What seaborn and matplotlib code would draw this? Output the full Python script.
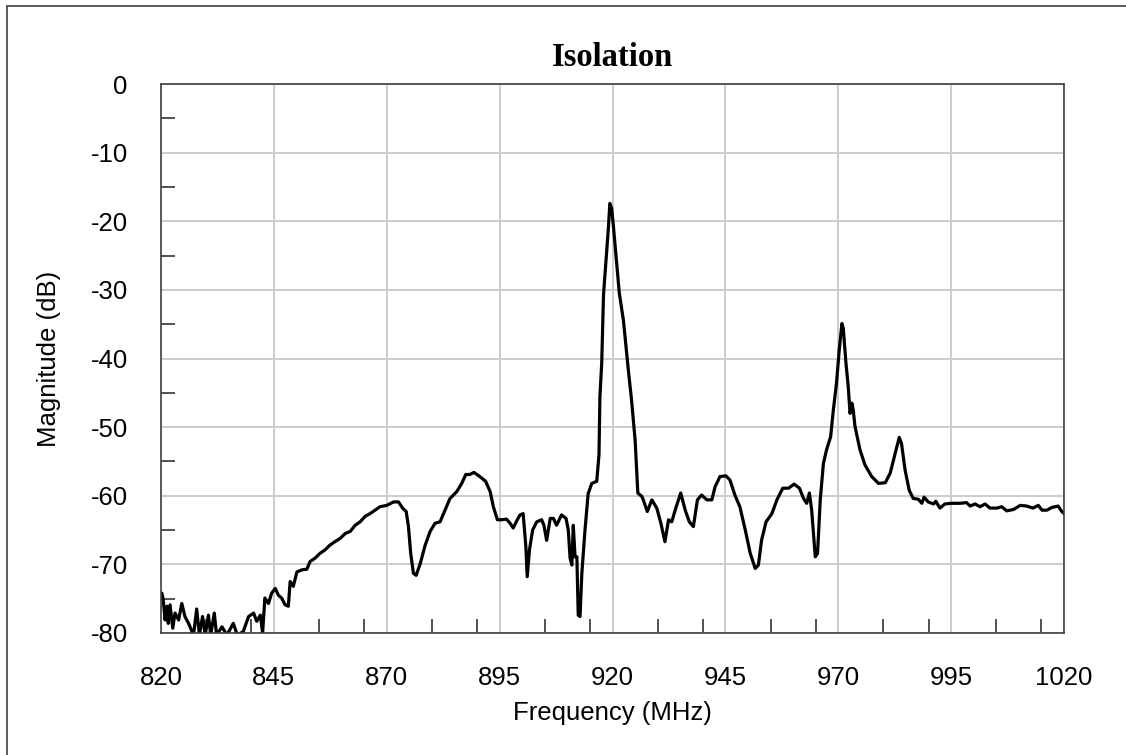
import matplotlib
matplotlib.use("Agg")
import matplotlib.pyplot as plt
import seaborn as sns
import pandas as pd
from matplotlib.lines import Line2D
from matplotlib.ticker import FixedLocator

# values (frequency in MHz, magnitude in dB)
freq = [
    820.2, 820.5, 820.9, 821.3, 821.6, 822.0, 822.6, 823.1, 823.9, 824.6,
    825.3, 826.1, 827.2, 827.9, 828.5, 829.2, 829.8, 830.5, 831.0, 831.8,
    832.3, 833.5, 834.6, 836.0, 836.9, 838.2, 839.4, 840.5, 841.2, 842.0,
    842.5, 843.0, 843.8, 844.5, 845.3, 846.0, 846.7, 847.5, 848.2, 848.6,
    849.3, 850.1, 851.2, 852.3, 853.0, 854.1, 855.2, 856.3, 857.4, 858.5,
    859.7, 860.8, 861.9, 863.0, 864.1, 865.2, 866.3, 867.4, 868.5,
    870.0, 871.5, 872.6, 873.5, 874.3, 874.8, 875.3, 875.9, 876.5, 877.4,
    878.5, 879.6, 880.7, 881.8, 882.9, 884.0, 885.5, 886.6, 887.5, 888.4,
    889.3, 890.6, 891.9, 892.9, 893.6, 894.5, 895.4, 896.5, 897.3, 898.0,
    898.9, 899.5, 900.2, 900.8, 901.1, 901.6, 902.3, 903.2, 904.3, 904.8,
    905.4, 906.2, 906.9, 907.6, 908.7, 909.7, 910.2, 910.6, 911.0, 911.3,
    911.7, 912.1, 912.4, 912.8, 913.2, 913.9, 914.6, 915.4, 916.5,
    917.0, 917.2, 917.6, 918.0, 918.6, 919.1, 919.4, 919.8, 920.2, 920.8,
    921.5, 922.4, 923.5, 924.2, 925.0, 925.6, 926.5,
    926.8, 927.7, 928.7, 929.8, 930.7, 931.6, 932.4, 933.1, 934.1, 935.1,
    936.1, 937.0, 937.9, 938.8, 939.7, 940.9, 942.0, 942.7, 943.8, 945.1,
    946.0, 947.1, 948.2, 949.4, 950.5, 951.6, 952.3, 953.0, 954.0, 955.3,
    956.4, 957.7, 959.0, 960.2, 961.4, 962.3, 963.0, 963.6, 964.1, 964.9,
    965.4, 966.0, 966.7, 967.4, 968.3, 968.9, 969.6, 970.2, 970.8, 971.1,
    971.7, 972.2, 972.6, 973.0, 973.3,
    973.7, 974.8, 975.9, 977.4, 978.9, 980.4, 981.5, 982.6, 983.5, 984.0,
    984.8, 985.7, 986.6, 987.7, 988.5, 989.0, 989.9, 991.1, 991.6, 992.5,
    993.6, 995.1, 997.0, 998.4, 999.2, 1000.3, 1001.4, 1002.5, 1003.6, 1005.1,
    1006.2, 1007.3, 1008.8, 1010.3, 1011.7, 1013.1, 1014.3, 1015.1, 1016.2, 1017.3,
    1018.7, 1019.5, 1020.0,
]
magnitude = [
    -74.2, -75.2, -78.1, -76.1, -78.6, -75.9, -79.3, -77.1, -78.1, -75.7,
    -77.6, -78.6, -80.3, -76.5, -80.3, -77.6, -80.3, -77.4, -80.3, -77.1,
    -80.3, -79.1, -80.3, -78.6, -80.3, -79.8, -77.6, -77.1, -78.3, -77.4,
    -80.0, -74.9, -75.7, -74.2, -73.5, -74.5, -74.9, -75.9, -76.1, -72.5,
    -73.2, -71.1, -70.8, -70.7, -69.6, -69.1, -68.4, -67.9, -67.2, -66.7,
    -66.2, -65.5, -65.2, -64.3, -63.8, -63.0, -62.6, -62.1, -61.6,
    -61.4, -60.9, -60.9, -61.8, -62.3, -64.5, -68.4, -71.3, -71.6, -69.9,
    -67.2, -65.2, -64.0, -63.8, -62.1, -60.4, -59.4, -58.2, -56.9, -56.9,
    -56.6, -57.2, -57.9, -59.4, -61.6, -63.5, -63.5, -63.4, -64.0, -64.7,
    -63.5, -62.8, -62.6, -67.4, -71.8, -67.9, -65.0, -63.8, -63.5, -64.3,
    -66.5, -63.3, -63.3, -64.3, -62.8, -63.3, -65.0, -69.1, -70.1, -64.3,
    -68.9, -68.9, -77.4, -77.6, -71.3, -65.0, -59.7, -58.2, -57.9,
    -54.0, -45.6, -40.7, -30.7, -25.2, -20.8, -17.4, -18.1, -20.8, -25.2,
    -30.5, -34.4, -41.7, -46.0, -51.9, -59.6, -60.1,
    -60.6, -62.3, -60.6, -61.8, -64.0, -66.7, -63.5, -63.8, -61.6, -59.6,
    -62.1, -63.8, -64.5, -60.6, -59.9, -60.6, -60.6, -58.7, -57.2, -57.1,
    -57.7, -59.9, -61.6, -65.0, -68.4, -70.6, -70.1, -66.5, -63.8, -62.6,
    -60.6, -58.9, -58.9, -58.3, -58.9, -60.4, -61.1, -59.6, -62.1, -68.9,
    -68.4, -60.6, -55.3, -53.3, -51.4, -47.5, -43.6, -38.8, -34.9, -35.6,
    -40.7, -44.1, -48.0, -46.5, -47.5,
    -49.9, -53.3, -55.5, -57.2, -58.2, -58.1, -56.7, -53.8, -51.5, -52.4,
    -56.3, -59.2, -60.4, -60.5, -61.1, -60.2, -60.9, -61.2, -60.8, -61.8,
    -61.2, -61.1, -61.1, -61.0, -61.5, -61.2, -61.6, -61.2, -61.8, -61.8,
    -61.6, -62.2, -62.0, -61.4, -61.5, -61.8, -61.4, -62.1, -62.1, -61.7,
    -61.5, -62.3, -62.6,
]

x_major = [820, 845, 870, 895, 920, 945, 970, 995, 1020]
x_minor = [830, 840, 855, 865, 880, 890, 905, 915, 930, 940, 955, 965,
           980, 990, 1005, 1015]
y_major = [0, -10, -20, -30, -40, -50, -60, -70, -80]
y_minor = [-5, -15, -25, -35, -45, -55, -65, -75]

df = pd.DataFrame({"freq": freq, "mag": magnitude})

sns.set_style("white")
plt.rcParams["font.family"] = ["Liberation Sans", "DejaVu Sans"]
plt.rcParams["axes.unicode_minus"] = False

fig = plt.figure(figsize=(11.26, 7.55), dpi=100)
ax = fig.add_axes([0.143, 0.1616, 0.802, 0.7271])

sns.lineplot(data=df, x="freq", y="mag", color="black", linewidth=2.3,
             estimator=None, sort=False, ax=ax)

ax.set_xlim(820, 1020)
ax.set_ylim(-80, 0)
ax.xaxis.set_major_locator(FixedLocator(x_major))
ax.xaxis.set_minor_locator(FixedLocator(x_minor))
ax.yaxis.set_major_locator(FixedLocator(y_major))
ax.yaxis.set_minor_locator(FixedLocator(y_minor))

ax.grid(True, which="major", color="#cccccc", linewidth=1.4)
ax.set_axisbelow(True)

ax.tick_params(axis="both", which="major", length=0, labelsize=18.5,
               labelcolor="black")
ax.tick_params(axis="x", which="major", pad=24)
ax.tick_params(axis="y", which="major", pad=24)
ax.tick_params(axis="x", which="minor", direction="in", length=10,
               width=1.2, color="#333333", bottom=True, top=False)
ax.tick_params(axis="y", which="minor", direction="in", length=10,
               width=1.2, color="#333333", left=True, right=False)

for sp in ax.spines.values():
    sp.set_color("#404040")
    sp.set_linewidth(1.2)
    sp.set_visible(True)

ax.set_xlabel("Frequency (MHz)", fontsize=18.5, labelpad=8, color="black")
ax.set_ylabel("Magnitude (dB)", fontsize=18.5, labelpad=21, color="black")
ax.set_title("Isolation", fontsize=23.5, fontweight="bold", color="black",
             family=["Liberation Serif", "DejaVu Serif"], pad=13)

# outer frame of the picture (only left and top edges show)
fig.add_artist(Line2D([7.5 / 1126, 7.5 / 1126], [0, 1 - 6 / 755],
                      transform=fig.transFigure, color="#404040", lw=1.2))
fig.add_artist(Line2D([7.5 / 1126, 1], [1 - 6 / 755, 1 - 6 / 755],
                      transform=fig.transFigure, color="#404040", lw=1.2))

fig.savefig("out.png", dpi=100)
